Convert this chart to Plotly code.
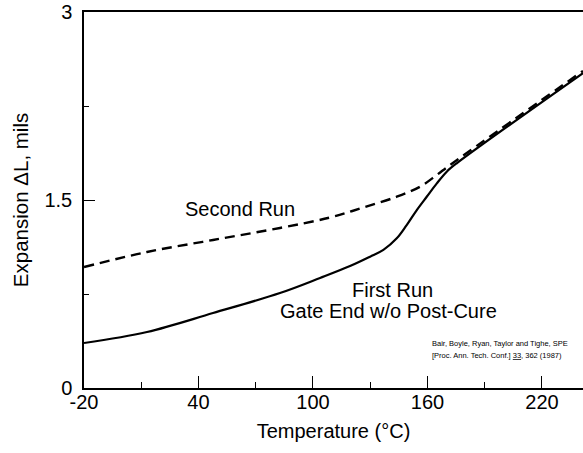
import plotly.graph_objects as go

# Data
first_x = [-20, 13, 47.6, 82.7, 103.7, 119.4, 129.9, 136.9, 143.9, 149.1, 154.4, 159.6, 164.9, 170.1, 175.3, 241.5]
first_y = [0.359, 0.447, 0.598, 0.758, 0.878, 0.973, 1.048, 1.102, 1.194, 1.300, 1.420, 1.526, 1.633, 1.726, 1.793, 2.513]

second_x = [-20, 13, 47.6, 82.7, 108.9, 126.4, 143.9, 156.1, 164.9, 171.8, 241.5]
second_y = [0.965, 1.085, 1.181, 1.277, 1.36, 1.44, 1.526, 1.606, 1.70, 1.779, 2.53]

x_ticks = [-20, 40, 100, 160, 220]
x_tick_text = ["-20", "40", "100", "160", "220"]
y_ticks = [0, 1.5, 3]
y_tick_text = ["0", "1.5", "3"]

FONT = "Liberation Sans, Arial, Helvetica, sans-serif"

fig = go.Figure()
fig.add_trace(go.Scatter(x=first_x, y=first_y, mode="lines",
                         line=dict(color="black", width=2.2, shape="spline", smoothing=1.0),
                         showlegend=False, hoverinfo="skip"))
fig.add_trace(go.Scatter(x=second_x, y=second_y, mode="lines",
                         line=dict(color="black", width=2.4, dash="10px,6px", shape="spline", smoothing=1.0),
                         showlegend=False, hoverinfo="skip"))

fig.update_layout(
    width=583, height=453,
    margin=dict(l=84, r=0, t=12, b=65),
    paper_bgcolor="white", plot_bgcolor="white",
    font=dict(family=FONT, size=20, color="black"),
    xaxis=dict(range=[-20, 241.5], tickvals=x_ticks, ticktext=x_tick_text, ticks="inside", ticklen=12,
               tickcolor="black", tickwidth=1.2, showline=True, linecolor="black",
               linewidth=1.5, mirror=True, showgrid=False, zeroline=False,
               ticklabelstandoff=-5,
               minor=dict(tick0=-20, dtick=30, ticks="inside", ticklen=6,
                          tickcolor="black", tickwidth=1.2, showgrid=False),
               title=dict(text="Temperature (°C)", font=dict(size=20), standoff=12)),
    yaxis=dict(range=[0, 3], tickvals=y_ticks, ticktext=y_tick_text, ticks="inside", ticklen=11,
               tickcolor="black", tickwidth=1.2, showline=True, linecolor="black",
               linewidth=1.5, showgrid=False, zeroline=False,
               ticklabelstandoff=6,
               minor=dict(tick0=0, dtick=0.75, ticks="inside", ticklen=5,
                          tickcolor="black", tickwidth=1.2, showgrid=False)),
)

fig.add_annotation(text="Expansion ΔL, mils", xref="paper", yref="paper",
                   x=-0.128, y=0.5, textangle=-90, showarrow=False,
                   xanchor="center", yanchor="middle", font=dict(size=20.5))
fig.add_annotation(text="Second Run", x=31.9, y=1.428, xanchor="left", yanchor="middle",
                   showarrow=False, font=dict(size=20))
fig.add_annotation(text="First Run", x=119.4, y=0.782, xanchor="left", yanchor="middle",
                   showarrow=False, font=dict(size=20))
fig.add_annotation(text="Gate End w/o Post-Cure", x=81.7, y=0.614, xanchor="left", yanchor="middle",
                   showarrow=False, font=dict(size=20))
fig.add_annotation(text="Bair, Boyle, Ryan, Taylor and Tighe, SPE", x=161.3, y=0.359,
                   xanchor="left", yanchor="middle", showarrow=False, font=dict(size=7.5))
fig.add_annotation(text="[Proc. Ann. Tech. Conf.] <u>33</u>, 362 (1987)", x=161.3, y=0.263,
                   xanchor="left", yanchor="middle", showarrow=False, font=dict(size=7.5))

fig.write_html("out.html")
